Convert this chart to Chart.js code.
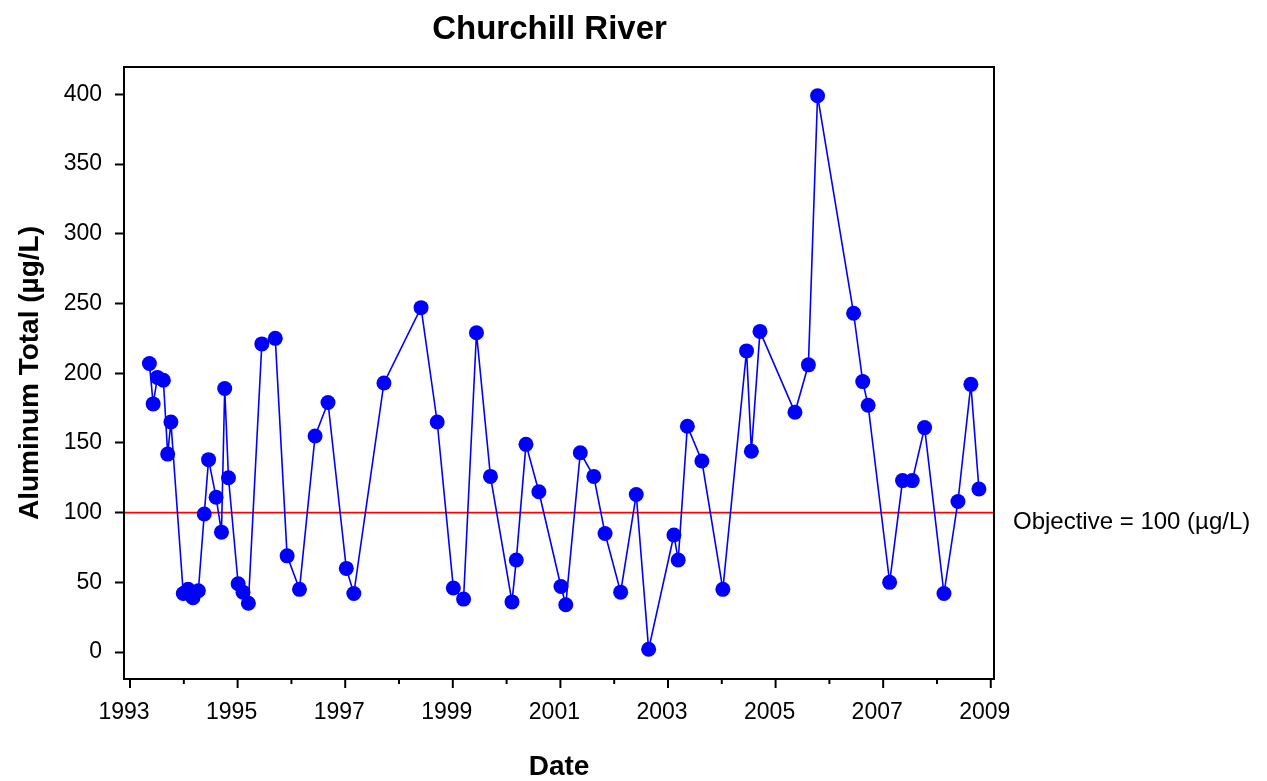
<!DOCTYPE html>
<html><head><meta charset="utf-8">
<script src="https://cdn.jsdelivr.net/npm/chart.js@4.4.1/dist/chart.umd.min.js"></script>
<style>html,body{margin:0;padding:0;background:#fff;overflow:hidden}canvas{display:block}</style>
</head><body>
<canvas id="c" width="1267" height="781"></canvas>
<script>
const chartTitle = "Churchill River";
const xAxisTitle = "Date";
const yAxisTitle = "Aluminum Total (µg/L)";
const objectiveLabel = "Objective = 100 (µg/L)";
const objectiveValue = 100;

const sampleDates = [
  1993.36, 1993.43, 1993.51, 1993.62, 1993.70, 1993.76, 1993.99, 1994.08, 1994.17, 1994.27,
  1994.38, 1994.46, 1994.60, 1994.70, 1994.76, 1994.83, 1995.01, 1995.10, 1995.20, 1995.45,
  1995.70, 1995.92, 1996.15, 1996.44, 1996.68, 1997.02, 1997.16, 1997.72, 1998.41, 1998.71,
  1999.01, 1999.20, 1999.44, 1999.70, 2000.10, 2000.18, 2000.36, 2000.60, 2001.01, 2001.10,
  2001.37, 2001.62, 2001.83, 2002.12, 2002.41, 2002.64, 2003.11, 2003.19, 2003.36, 2003.63,
  2004.02, 2004.46, 2004.55, 2004.71, 2005.36, 2005.61, 2005.78, 2006.45, 2006.62, 2006.72,
  2007.12, 2007.36, 2007.54, 2007.77, 2008.13, 2008.39, 2008.63, 2008.78
];
const aluminumValues = [
  207, 178, 197, 195, 142, 165, 42, 45, 39, 44,
  99, 138, 111, 86, 189, 125, 49, 43, 35, 221,
  225, 69, 45, 155, 179, 60, 42, 193, 247, 165,
  46, 38, 229, 126, 36, 66, 149, 115, 47, 34,
  143, 126, 85, 43, 113, 2, 84, 66, 162, 137,
  45, 216, 144, 230, 172, 206, 399, 243, 194, 177,
  50, 123, 123, 161, 42, 108, 192, 117
];
const yTickValues = [0, 50, 100, 150, 200, 250, 300, 350, 400];
const xTickYears = [1993,1994,1995,1996,1997,1998,1999,2000,2001,2002,2003,2004,2005,2006,2007,2008,2009];
const xLabelYears = [1993,1995,1997,1999,2001,2003,2005,2007,2009];

const xMin = 1992.888, xMax = 2009.06;
const yMin = -19.3, yMax = 419.6;
const FONT = '"Liberation Sans", Arial, Helvetica, sans-serif';

const decorPlugin = {
  id: 'decor',
  afterDraw(chart) {
    const ctx = chart.ctx, a = chart.chartArea, xs = chart.scales.x;
    ctx.save();
    ctx.strokeStyle = '#000';
    ctx.lineWidth = 2;
    ctx.strokeRect(a.left, a.top, a.right - a.left, a.bottom - a.top);
    xTickYears.forEach(yr => {
      const px = xs.getPixelForValue(yr);
      const len = xLabelYears.includes(yr) ? 9 : 5;
      ctx.beginPath(); ctx.moveTo(px, a.bottom); ctx.lineTo(px, a.bottom + len); ctx.stroke();
    });
    ctx.fillStyle = '#000';
    ctx.textBaseline = 'alphabetic';
    ctx.textAlign = 'center';
    ctx.font = 'bold 33px ' + FONT;
    ctx.fillText(chartTitle, 549.5, 39);
    ctx.font = 'bold 28px ' + FONT;
    ctx.fillText(xAxisTitle, (a.left + a.right) / 2, 775);
    ctx.save();
    ctx.translate(37.5, (a.top + a.bottom) / 2);
    ctx.rotate(-Math.PI / 2);
    ctx.fillText(yAxisTitle, 0, 0);
    ctx.restore();
    ctx.textAlign = 'left';
    ctx.font = '24px ' + FONT;
    ctx.fillText(objectiveLabel, 1013, 529);
    ctx.restore();
  }
};

new Chart(document.getElementById('c'), {
  type: 'scatter',
  data: {
    datasets: [
      {
        data: sampleDates.map((d, i) => ({ x: d, y: aluminumValues[i] })),
        showLine: true,
        borderColor: '#0000FF',
        backgroundColor: '#0000FF',
        borderWidth: 1.6,
        pointRadius: 7.5,
        pointBorderWidth: 0,
        pointHoverRadius: 7.5,
        order: 1
      },
      {
        data: [{ x: xMin, y: objectiveValue }, { x: xMax, y: objectiveValue }],
        showLine: true,
        borderColor: '#FF0000',
        borderWidth: 1.6,
        pointRadius: 0,
        order: 2
      }
    ]
  },
  options: {
    responsive: false,
    devicePixelRatio: 1,
    animation: false,
    events: [],
    layout: { padding: { top: 67, right: 273, bottom: 0, left: 0 } },
    plugins: { legend: { display: false }, tooltip: { enabled: false }, title: { display: false } },
    scales: {
      x: {
        type: 'linear', min: xMin, max: xMax,
        afterBuildTicks: s => { s.ticks = xTickYears.map(v => ({ value: v })); },
        afterFit: s => { s.height = 102; },
        grid: { display: false, drawTicks: false },
        border: { display: false },
        ticks: {
          autoSkip: false, maxRotation: 0, minRotation: 0,
          padding: 20, labelOffset: -6,
          color: '#000', font: { family: FONT, size: 23 },
          callback: v => xLabelYears.includes(v) ? String(v) : ''
        }
      },
      y: {
        type: 'linear', min: yMin, max: yMax,
        afterBuildTicks: s => { s.ticks = yTickValues.map(v => ({ value: v })); },
        afterFit: s => { s.width = 124; },
        grid: { display: true, drawOnChartArea: false, drawTicks: true, tickLength: 9, tickColor: '#000', tickWidth: 2 },
        border: { display: false },
        ticks: { padding: 13, color: '#000', font: { family: FONT, size: 23 } }
      }
    }
  },
  plugins: [decorPlugin]
});
</script>
</body></html>
